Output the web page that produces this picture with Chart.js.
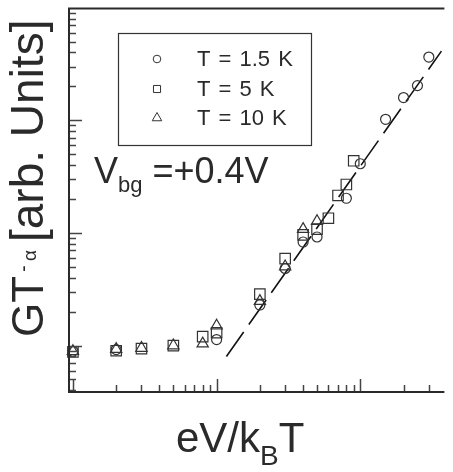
<!DOCTYPE html>
<html>
<head>
<meta charset="utf-8">
<script src="https://cdn.jsdelivr.net/npm/chart.js@4"></script>
<style>
  html, body { margin: 0; padding: 0; background: #fff; }
  canvas { display: block; }
</style>
</head>
<body>
<canvas id="chart" width="453" height="472"></canvas>
<script>
// data (eV/kBT vs G T^-alpha, log-log)
const x15 = [0.1, 0.2, 1.0, 2, 3, 4, 5, 8, 10, 15, 20, 25, 30];
const y15 = [0.089, 0.092, 0.113, 0.229, 0.483, 0.83, 0.92, 2.03, 4.11, 10.2, 15.9, 20.3, 36.4];

const x5 = [0.1, 0.2, 0.3, 0.5, 0.8, 1.0, 2, 3, 4, 5, 6, 7, 8, 9];
const y5 = [0.088, 0.090, 0.094, 0.100, 0.120, 0.130, 0.286, 0.592, 0.96, 1.08, 1.35, 2.15, 2.69, 4.37];

const x10 = [0.1, 0.2, 0.3, 0.5, 0.8, 1.0, 2, 3, 4, 5];
const y10 = [0.089, 0.093, 0.095, 0.100, 0.104, 0.150, 0.248, 0.503, 1.08, 1.27];

// power-law fit line (dashed)
const fitX = [1.17, 36.7];
const fitY = [0.080, 41.1];

const legendLabels = ['T = 1.5 K', 'T = 5 K', 'T = 10 K'];
const markerStyles = ['circle', 'rect', 'triangle'];

// axis ticks (inward, no labels)
const xMajor = [0.1, 1, 10];
const xMinor = [0.2, 0.3, 0.4, 0.5, 0.6, 0.7, 0.8, 0.9, 2, 3, 4, 5, 6, 7, 8, 9, 20, 30];
const yMajor = [0.1, 1, 10];
const yMinor = [0.04, 0.05, 0.06, 0.07, 0.08, 0.09, 0.2, 0.3, 0.4, 0.5, 0.6, 0.7, 0.8, 0.9,
                2, 3, 4, 5, 6, 7, 8, 9, 20, 30, 40, 50, 60, 70, 80, 90];

const FONT = "'Liberation Sans', Arial, sans-serif";
const INK = '#2a2a2a';

function pts(xs, ys) {
  return xs.map((x, i) => ({ x: x, y: ys[i] }));
}

const frameAndText = {
  id: 'frameAndText',
  afterDraw(chart) {
    const ctx = chart.ctx;
    const a = chart.chartArea;
    const xs = chart.scales.x, ys = chart.scales.y;
    ctx.save();

    // ticks
    ctx.strokeStyle = '#444';
    ctx.lineWidth = 1.5;
    ctx.beginPath();
    xMajor.concat(xMinor).forEach(v => {
      const px = Math.round(xs.getPixelForValue(v)) + 0.5;
      const len = xMajor.includes(v) ? 13 : 7;
      ctx.moveTo(px, a.bottom);
      ctx.lineTo(px, a.bottom - len);
    });
    yMajor.concat(yMinor).forEach(v => {
      const py = Math.round(ys.getPixelForValue(v)) + 0.5;
      const len = yMajor.includes(v) ? 13 : 7;
      ctx.moveTo(a.left, py);
      ctx.lineTo(a.left + len, py);
    });
    ctx.stroke();

    // frame: left, top, bottom (right side runs off the page)
    ctx.strokeStyle = INK;
    ctx.lineWidth = 2;
    ctx.beginPath();
    ctx.moveTo(a.right, a.top);
    ctx.lineTo(a.left, a.top);
    ctx.lineTo(a.left, a.bottom);
    ctx.lineTo(a.right, a.bottom);
    ctx.stroke();

    // legend box
    ctx.lineWidth = 1.2;
    ctx.strokeStyle = '#333';
    ctx.strokeRect(118.5, 33.5, 193, 112);
    const rowY = [59, 89, 118];
    const radii = [3.8, 5, 5.5];
    legendLabels.forEach((lab, i) => {
      ctx.strokeStyle = '#333';
      ctx.fillStyle = 'rgba(0,0,0,0)';
      ctx.lineWidth = 1;
      Chart.helpers.drawPoint(ctx, { pointStyle: markerStyles[i], radius: radii[i], borderWidth: 1 }, 157, rowY[i]);
      ctx.fillStyle = INK;
      ctx.font = '22px ' + FONT;
      ctx.textAlign = 'left';
      ctx.textBaseline = 'alphabetic';
      ctx.wordSpacing = '2px';
      ctx.fillText(lab, 197, rowY[i] + 7);
      ctx.wordSpacing = '0px';
    });

    // V_bg annotation
    ctx.fillStyle = INK;
    ctx.font = '36px ' + FONT;
    ctx.fillText('V', 94, 183);
    let w = ctx.measureText('V').width;
    ctx.font = '22px ' + FONT;
    ctx.fillText('bg', 94 + w, 192);
    w += ctx.measureText('bg').width;
    ctx.font = '36px ' + FONT;
    ctx.fillText(' =+0.4V', 94 + w, 183);

    // x title: eV/k_B T
    ctx.font = '42px ' + FONT;
    let xx = 176;
    ctx.fillText('eV/k', xx, 452);
    xx += ctx.measureText('eV/k').width;
    ctx.font = '28px ' + FONT;
    ctx.fillText('B', xx, 465);
    xx += ctx.measureText('B').width;
    ctx.font = '42px ' + FONT;
    ctx.fillText('T', xx, 452);

    // y title: GT^-alpha [arb. Units]
    ctx.translate(43, 337);
    ctx.rotate(-Math.PI / 2);
    ctx.font = '44px ' + FONT;
    ctx.fillText('GT', 0, 0);
    ctx.font = '20px ' + FONT;
    ctx.fillText('-', 65, -13);
    ctx.font = '19px ' + FONT;
    ctx.fillText('\u03b1', 76, -7);
    ctx.font = '46px ' + FONT;
    ctx.fillText('[arb. Units]', 95, 0);

    ctx.restore();
  }
};

const marker = { backgroundColor: 'rgba(0,0,0,0)', borderColor: '#333', pointBorderWidth: 1.2, clip: false };

new Chart(document.getElementById('chart').getContext('2d'), {
  type: 'scatter',
  data: {
    datasets: [
      Object.assign({ label: legendLabels[0], data: pts(x15, y15), pointStyle: 'circle', pointRadius: 5 }, marker),
      Object.assign({ label: legendLabels[1], data: pts(x5, y5), pointStyle: 'rect', pointRadius: 7.4 }, marker),
      Object.assign({ label: legendLabels[2], data: pts(x10, y10), pointStyle: 'triangle', pointRadius: 6.5 }, marker),
      {
        type: 'line', label: 'fit', data: pts(fitX, fitY),
        borderColor: '#111', borderWidth: 1.6, borderDash: [30, 9],
        pointRadius: 0, fill: false, clip: false
      }
    ]
  },
  options: {
    responsive: false,
    animation: false,
    layout: { padding: { left: 69, top: 4, right: 0, bottom: 80 } },
    plugins: { legend: { display: false }, tooltip: { enabled: false } },
    scales: {
      x: { type: 'logarithmic', min: 0.0939, max: 38.5, display: false },
      y: { type: 'logarithmic', min: 0.0387, max: 98, display: false }
    }
  },
  plugins: [frameAndText]
});
</script>
</body>
</html>
